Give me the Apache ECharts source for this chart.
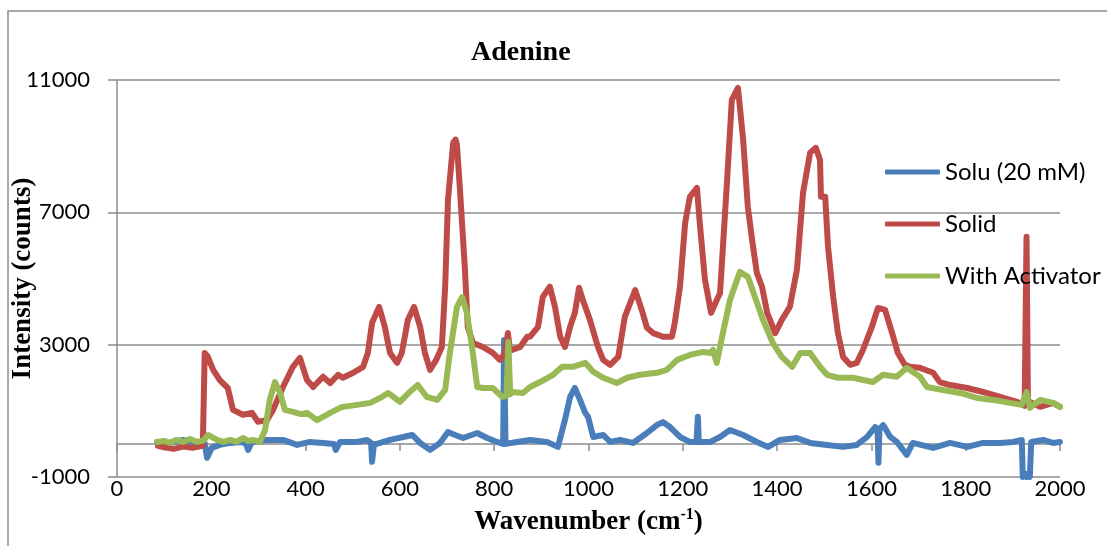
<!DOCTYPE html>
<html>
<head>
<meta charset="utf-8">
<title>Adenine</title>
<script src="https://cdn.jsdelivr.net/npm/echarts@6/dist/echarts.min.js"></script>
<style>
  html, body { margin: 0; padding: 0; background: #fff; }
  #main { width: 1107px; height: 546px; }
</style>
</head>
<body>
<div id="main"></div>
<script>
// series names
var seriesNames = ['Solu (20 mM)', 'Solid', 'With Activator'];

// [wavenumber, counts]
var soluPoints = [
  [85,60],[110,30],[140,120],[160,60],[176,60],[186,30],[191,-420],[201,-120],[218,-30],[240,30],
  [265,60],[274,0],[278,-180],[286,60],[318,120],[352,120],[382,-30],[409,60],[437,30],[460,0],
  [464,-180],[473,60],[509,60],[530,120],[539,30],[541,-540],[545,0],[551,0],[579,120],[607,210],
  [626,270],[643,30],[664,-180],[685,30],[702,360],[717,270],[734,180],[764,330],[785,180],[806,60],
  [819,0],[821,3140],[824,0],[848,60],[876,120],[912,60],[935,-90],[950,720],[961,1420],[971,1690],
  [982,1330],[993,940],[999,820],[1010,210],[1031,270],[1046,60],[1067,120],[1094,30],[1124,330],[1145,570],
  [1158,660],[1173,510],[1194,210],[1215,60],[1229,60],[1232,820],[1234,60],[1258,60],[1279,210],[1300,420],
  [1328,270],[1357,60],[1381,-90],[1406,120],[1442,180],[1470,30],[1506,-30],[1540,-90],[1569,-30],[1591,210],
  [1608,510],[1613,450],[1615,-570],[1617,450],[1625,570],[1640,210],[1654,60],[1675,-330],[1688,30],[1731,-120],
  [1767,30],[1803,-90],[1837,30],[1873,30],[1901,60],[1919,120],[1921,-1000],[1925,-900],[1929,-1000],[1933,-900],
  [1936,-1000],[1939,60],[1964,120],[1985,30],[2000,60]
];

var solidPoints = [
  [87,-60],[100,-100],[120,-150],[140,-80],[160,-120],[182,-60],[186,2750],[192,2650],[204,2240],[218,1930],
  [235,1690],[246,1030],[267,880],[286,940],[299,670],[318,720],[331,1030],[352,1720],[373,2330],[388,2600],
  [403,1930],[416,1720],[437,2030],[452,1840],[469,2090],[479,2000],[501,2150],[522,2330],[532,2750],[541,3660],
  [556,4140],[568,3540],[579,2750],[594,2450],[604,2750],[617,3750],[630,4140],[643,3540],[653,2750],[664,2240],
  [677,2540],[689,2930],[696,4750],[702,7380],[713,9100],[718,9200],[721,9040],[727,7770],[738,5260],[744,3540],
  [755,3050],[776,2930],[797,2750],[812,2540],[823,2750],[829,3350],[833,2900],[838,2840],[855,2930],[870,3240],
  [876,3240],[893,3540],[903,4440],[918,4750],[929,4140],[940,3240],[950,2930],[961,3540],[971,3960],[980,4720],
  [988,4350],[1003,3750],[1020,2930],[1031,2540],[1046,2390],[1063,2630],[1077,3840],[1099,4650],[1113,4050],[1124,3510],
  [1137,3350],[1158,3240],[1177,3240],[1183,3660],[1194,4750],[1205,6680],[1215,7470],[1230,7740],[1236,6680],[1247,4960],
  [1260,3960],[1272,4350],[1279,4560],[1294,7980],[1304,10400],[1317,10760],[1328,9190],[1338,7160],[1347,6170],[1357,5170],
  [1368,4750],[1379,3960],[1396,3350],[1410,3750],[1427,4140],[1442,5260],[1455,7590],[1470,8800],[1482,8950],[1491,8590],
  [1493,7470],[1502,7470],[1508,5960],[1519,4440],[1529,3350],[1540,2630],[1555,2390],[1569,2450],[1582,2840],[1601,3540],
  [1614,4110],[1629,4050],[1644,3350],[1656,2750],[1671,2390],[1682,2330],[1703,2300],[1731,2150],[1745,1870],[1767,1780],
  [1803,1690],[1837,1570],[1873,1420],[1909,1270],[1925,1150],[1929,6260],[1932,1300],[1958,1120],[1985,1240],[2000,1120]
];

var activatorPoints = [
  [85,60],[100,90],[112,30],[125,120],[140,60],[155,150],[170,60],[183,100],[193,270],[212,120],
  [226,60],[240,120],[253,60],[267,180],[278,90],[288,120],[303,60],[314,420],[324,1330],[335,1870],
  [346,1540],[356,1030],[373,970],[390,900],[403,940],[424,720],[445,880],[452,940],[473,1090],[479,1120],
  [509,1180],[537,1240],[558,1390],[575,1540],[600,1270],[621,1570],[638,1780],[657,1420],[679,1330],[696,1630],
  [706,2750],[721,4140],[732,4440],[742,3960],[753,2930],[764,1720],[776,1690],[797,1690],[817,1420],[826,1450],
  [830,3080],[834,1500],[838,1570],[861,1540],[876,1720],[897,1870],[925,2090],[944,2330],[967,2330],[993,2450],
  [1010,2180],[1031,2000],[1060,1840],[1082,2000],[1109,2090],[1145,2150],[1166,2240],[1188,2540],[1215,2690],[1243,2780],
  [1258,2750],[1264,2840],[1272,2450],[1285,3350],[1300,4350],[1321,5200],[1338,5050],[1353,4440],[1370,3750],[1391,3050],
  [1410,2630],[1432,2330],[1449,2750],[1470,2750],[1491,2330],[1506,2090],[1529,2000],[1561,2000],[1603,1870],[1625,2090],
  [1654,2030],[1675,2300],[1703,2030],[1718,1720],[1752,1630],[1788,1540],[1824,1390],[1858,1330],[1894,1240],[1919,1180],
  [1929,1570],[1936,1090],[1958,1330],[1985,1240],[2000,1120]
];

var seriesColors = ['#4a7ebb', '#be4b48', '#98b954'];
var gridColor = '#8c8c8c';
var labelFont = 'Lato, "Open Sans", sans-serif';
var serifFont = '"Liberation Serif", "DejaVu Serif", serif';

function plainNumber(v) {
  return String(v);
}

function lineSeries(name, points, color) {
  return {
    name: name,
    type: 'line',
    xAxisIndex: 0,
    data: points,
    showSymbol: false,
    symbol: 'none',
    clip: true,
    lineStyle: { color: color, width: 6, cap: 'round', join: 'round' },
    itemStyle: { color: color },
    emphasis: { disabled: true }
  };
}

var chart = echarts.init(document.getElementById('main'));
chart.setOption({
  animation: false,
  backgroundColor: '#fff',
  title: {
    text: 'Adenine',
    left: 466,
    top: 34,
    textStyle: { fontFamily: serifFont, fontSize: 28, fontWeight: 'bold', color: '#000' }
  },
  legend: {
    orient: 'vertical',
    left: 880,
    top: 155,
    itemWidth: 55,
    itemHeight: 5,
    itemGap: 28,
    icon: 'roundRect',
    textStyle: { fontFamily: labelFont, fontSize: 24, color: '#000', lineHeight: 24 },
    data: seriesNames
  },
  graphic: [{
    type: 'rect',
    shape: { x: 8, y: 11, width: 1120, height: 560 },
    style: { fill: 'none', stroke: '#8c8c8c', lineWidth: 1.5 },
    silent: true
  }],
  grid: { left: 117, right: 47, top: 80, bottom: 69, containLabel: false, outerBoundsMode: 'none' },
  xAxis: [{
    type: 'value',
    min: 0, max: 2000, interval: 200,
    position: 'bottom',
    name: 'Wavenumber (cm{sup|-1})',
    nameLocation: 'middle',
    nameGap: 30,
    nameMoveOverlap: false,
    nameTextStyle: {
      fontFamily: serifFont, fontSize: 27, fontWeight: 'bold', color: '#000', lineHeight: 30,
      rich: { sup: { fontFamily: serifFont, fontSize: 16, fontWeight: 'bold', color: '#000', verticalAlign: 'top', lineHeight: 16 } }
    },
    axisLine: { show: false, onZero: false },
    axisTick: { show: false },
    splitLine: { show: false },
    axisLabel: { fontFamily: labelFont, fontSize: 22, color: '#000', margin: 1, formatter: plainNumber }
  }, {
    type: 'value',
    min: 0, max: 2000, interval: 200,
    position: 'top',
    axisLine: { show: true, onZero: true, lineStyle: { color: gridColor, width: 1.5 } },
    axisTick: { show: true, inside: true, length: 7, lineStyle: { color: gridColor, width: 1.5 } },
    axisLabel: { show: false },
    splitLine: { show: false }
  }],
  yAxis: {
    type: 'value',
    min: -1000, max: 11000, interval: 4000,
    name: 'Intensity (counts)',
    nameLocation: 'middle',
    nameGap: 80,
    nameRotate: 90,
    nameMoveOverlap: false,
    nameTextStyle: { fontFamily: serifFont, fontSize: 27, fontWeight: 'bold', color: '#000' },
    axisLine: { show: true, lineStyle: { color: gridColor, width: 1.5 } },
    axisTick: { show: true, length: 9, lineStyle: { color: gridColor, width: 1.5 } },
    splitLine: { show: true, lineStyle: { color: gridColor, width: 1.5 } },
    axisLabel: { fontFamily: labelFont, fontSize: 22, color: '#000', margin: 27, formatter: plainNumber }
  },
  series: [
    lineSeries(seriesNames[0], soluPoints, seriesColors[0]),
    lineSeries(seriesNames[1], solidPoints, seriesColors[1]),
    lineSeries(seriesNames[2], activatorPoints, seriesColors[2])
  ]
});
</script>
</body>
</html>
